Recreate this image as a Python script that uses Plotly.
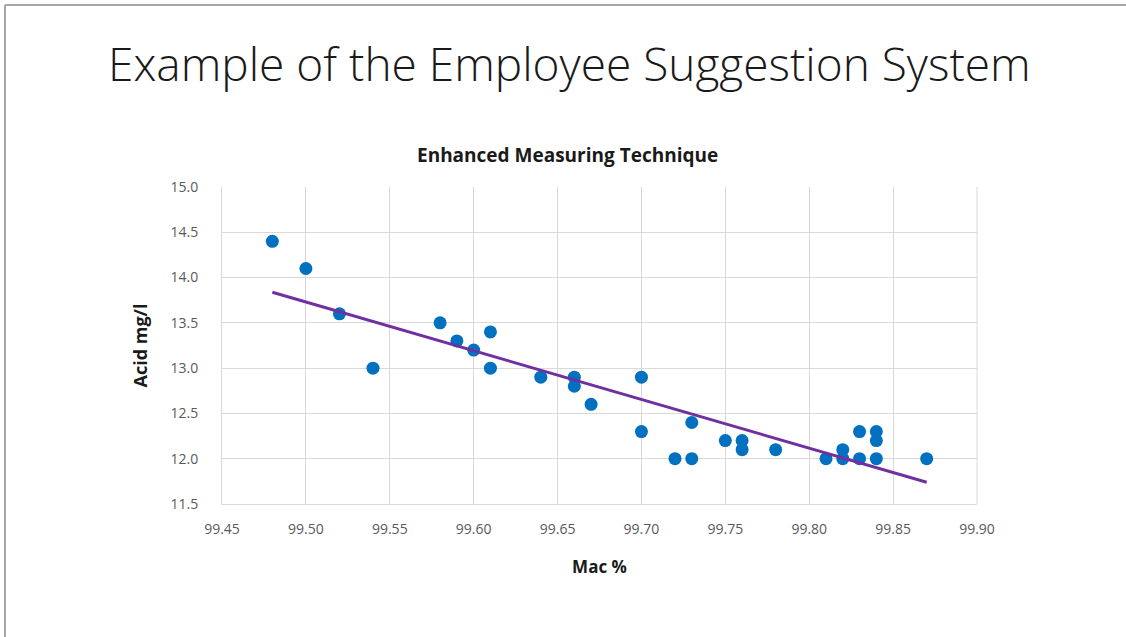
import numpy as np
import plotly.graph_objects as go

# Mac % vs Acid mg/l readings
macPercent = [99.48, 99.50, 99.52, 99.54, 99.58, 99.59, 99.60, 99.61, 99.61, 99.64,
              99.66, 99.66, 99.67, 99.70, 99.70, 99.72, 99.73, 99.73, 99.75, 99.76,
              99.76, 99.78, 99.81, 99.82, 99.82, 99.83, 99.83, 99.84, 99.84, 99.84,
              99.87]
acidMgL = [14.4, 14.1, 13.6, 13.0, 13.5, 13.3, 13.2, 13.4, 13.0, 12.9,
           12.9, 12.8, 12.6, 12.9, 12.3, 12.0, 12.0, 12.4, 12.2, 12.2,
           12.1, 12.1, 12.0, 12.1, 12.0, 12.3, 12.0, 12.3, 12.2, 12.0,
           12.0]

xTicks = [99.45, 99.50, 99.55, 99.60, 99.65, 99.70, 99.75, 99.80, 99.85, 99.90]
yTicks = [11.5, 12.0, 12.5, 13.0, 13.5, 14.0, 14.5, 15.0]

# linear trendline (least squares, like Excel)
slope, intercept = np.polyfit(macPercent, acidMgL, 1)
trendX = [min(macPercent), max(macPercent)]
trendY = [slope * x + intercept for x in trendX]

font = "Open Sans"
tickColor = "#595959"
gridColor = "#d9d9d9"
clear = "rgba(0,0,0,0)"

fig = go.Figure()

fig.add_trace(go.Scatter(
    x=macPercent, y=acidMgL, mode="markers",
    marker=dict(color="#0070c0", size=13, line=dict(width=0)),
    showlegend=False
))

fig.add_trace(go.Scatter(
    x=trendX, y=trendY, mode="lines",
    line=dict(color="#7030a0", width=3),
    showlegend=False
))

fig.update_layout(
    width=1126, height=637,
    margin=dict(l=222, r=149, t=187, b=133),
    paper_bgcolor="white", plot_bgcolor="white",
    font=dict(family=font, color=tickColor),
)

fig.update_xaxes(
    range=[99.45, 99.90], tickvals=xTicks,
    ticktext=[f"{v:.2f}" for v in xTicks],
    showgrid=True, gridcolor=gridColor, gridwidth=1,
    showline=True, linecolor=gridColor,
    zeroline=False, ticks="outside", ticklen=12, tickcolor=clear,
    tickfont=dict(size=14, color=tickColor),
    title=dict(text="<b>Mac %</b>", font=dict(size=17, color="#1a1a1a"), standoff=24),
)
fig.update_yaxes(
    range=[11.5, 15.0], tickvals=yTicks,
    ticktext=[f"{v:.1f}" for v in yTicks],
    showgrid=True, gridcolor=gridColor, gridwidth=1,
    showline=True, linecolor=gridColor,
    zeroline=False, ticks="outside", ticklen=20, tickcolor=clear,
    tickfont=dict(size=14, color=tickColor),
    title=dict(text="<b>Acid mg/l</b>", font=dict(size=18, color="#1a1a1a"), standoff=18),
)

# right edge gridline
fig.add_shape(type="line", xref="paper", yref="paper", x0=1, x1=1, y0=0, y1=1,
              line=dict(color=gridColor, width=1))

# slide title and chart title
fig.add_annotation(text="Example of the Employee Suggestion System",
                   xref="paper", yref="paper", x=(569 - 222) / 755, y=(504 - 63) / 317,
                   xanchor="center", yanchor="middle", showarrow=False,
                   font=dict(family=font, size=46, color="#1a1a1a", weight=300))
fig.add_annotation(text="<b>Enhanced Measuring Technique</b>",
                   xref="paper", yref="paper", x=(567 - 222) / 755, y=(504 - 155) / 317,
                   xanchor="center", yanchor="middle", showarrow=False,
                   font=dict(family=font, size=19, color="#1a1a1a"))

# slide border (top and left)
fig.add_shape(type="line", xref="paper", yref="paper",
              x0=(5 - 222) / 755, x1=(1126 - 222) / 755,
              y0=(504 - 5) / 317, y1=(504 - 5) / 317,
              line=dict(color="#a6a6a6", width=2))
fig.add_shape(type="line", xref="paper", yref="paper",
              x0=(5 - 222) / 755, x1=(5 - 222) / 755,
              y0=(504 - 5) / 317, y1=(504 - 637) / 317,
              line=dict(color="#a6a6a6", width=2))

fig.write_html("out.html", config={"displayModeBar": False},
               post_script="document.body.style.margin='0';")
